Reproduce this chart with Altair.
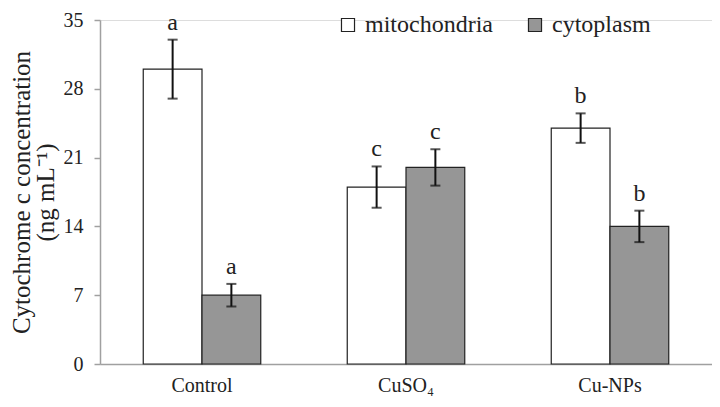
import altair as alt
import pandas as pd

treatments = ["Control", "CuSO₄", "Cu-NPs"]
series = ["mitochondria", "cytoplasm"]
mito_values = [30.0, 18.0, 24.0]
mito_errors = [3.0, 2.1, 1.5]
mito_letters = ["a", "c", "b"]
cyto_values = [7.0, 20.0, 14.0]
cyto_errors = [1.15, 1.85, 1.6]
cyto_letters = ["a", "c", "b"]
y_ticks = [0, 7, 14, 21, 28, 35]

rows = []
for i, t in enumerate(treatments):
    rows.append(dict(treatment=t, series="mitochondria", value=mito_values[i],
                     err=mito_errors[i], letter=mito_letters[i]))
    rows.append(dict(treatment=t, series="cytoplasm", value=cyto_values[i],
                     err=cyto_errors[i], letter=cyto_letters[i]))
df = pd.DataFrame(rows)
df["lo"] = df["value"] - df["err"]
df["hi"] = df["value"] + df["err"]

FONT = "Liberation Serif"

x_enc = alt.X("treatment:N", sort=treatments, title=None,
              scale=alt.Scale(paddingInner=0.424, paddingOuter=0.212),
              axis=alt.Axis(labelAngle=0, ticks=False, labelPadding=11,
                            labelFontSize=20, labelFont=FONT, labelColor="#222",
                            domainColor="#a0a0a0", domainWidth=1.5))
xo_enc = alt.XOffset("series:N", sort=series, scale=alt.Scale(paddingInner=0, paddingOuter=0))
y_scale = alt.Scale(domain=[0, 35], nice=False)

base = alt.Chart(df)

bars = base.mark_bar(stroke="#222", strokeWidth=1.2).encode(
    x=x_enc,
    xOffset=xo_enc,
    y=alt.Y("value:Q", scale=y_scale,
            title=["Cytochrome c concentration", "(ng mL⁻¹)"],
            axis=alt.Axis(values=y_ticks, grid=False, tickSize=6, tickColor="#a0a0a0",
                          domainColor="#a0a0a0", domainWidth=1.5, tickWidth=1.5,
                          labelFontSize=20, labelFont=FONT, labelColor="#222",
                          labelPadding=11,
                          titleFont=FONT, titleFontSize=25, titleFontWeight="normal",
                          titleColor="#222", titleX=-91, titleY=172,
                          titleBaseline="top", titleLineHeight=24)),
    fill=alt.Fill("series:N", sort=series,
                  scale=alt.Scale(domain=series, range=["#ffffff", "#969696"]),
                  legend=alt.Legend(title=None, orient="none", legendX=236, legendY=-7,
                                    direction="horizontal", symbolType="square",
                                    symbolSize=170, symbolStrokeColor="#222",
                                    symbolStrokeWidth=1.2, labelFont=FONT,
                                    labelFontSize=24, labelColor="#222",
                                    labelOffset=5, columnPadding=30)),
)

rule = base.mark_rule(color="#111", strokeWidth=2).encode(
    x=alt.X("treatment:N", sort=treatments),
    xOffset=alt.XOffset("series:N", sort=series),
    y=alt.Y("lo:Q", scale=y_scale),
    y2="hi:Q",
)
cap_lo = base.mark_tick(color="#111", thickness=2, size=10, orient="horizontal").encode(
    x=alt.X("treatment:N", sort=treatments),
    xOffset=alt.XOffset("series:N", sort=series),
    y=alt.Y("lo:Q", scale=y_scale),
)
cap_hi = base.mark_tick(color="#111", thickness=2, size=10, orient="horizontal").encode(
    x=alt.X("treatment:N", sort=treatments),
    xOffset=alt.XOffset("series:N", sort=series),
    y=alt.Y("hi:Q", scale=y_scale),
)
letters = base.mark_text(font=FONT, fontSize=24, color="#222", baseline="bottom", dy=-5).encode(
    x=alt.X("treatment:N", sort=treatments),
    xOffset=alt.XOffset("series:N", sort=series),
    y=alt.Y("hi:Q", scale=y_scale),
    text="letter:N",
)

chart = alt.layer(bars, rule, cap_lo, cap_hi, letters).properties(
    width=612, height=344,
    autosize=alt.AutoSizeParams(type="none"),
    padding={"left": 92, "top": 12, "right": 0, "bottom": 35},
).configure_view(stroke=None).configure(
    background="white", font=FONT
).configure_legend(labelFont=FONT, labelFontSize=24).configure_axis(
    labelFont=FONT, titleFont=FONT
)

chart.save("out.html", embed_options={"renderer": "svg", "actions": False})
